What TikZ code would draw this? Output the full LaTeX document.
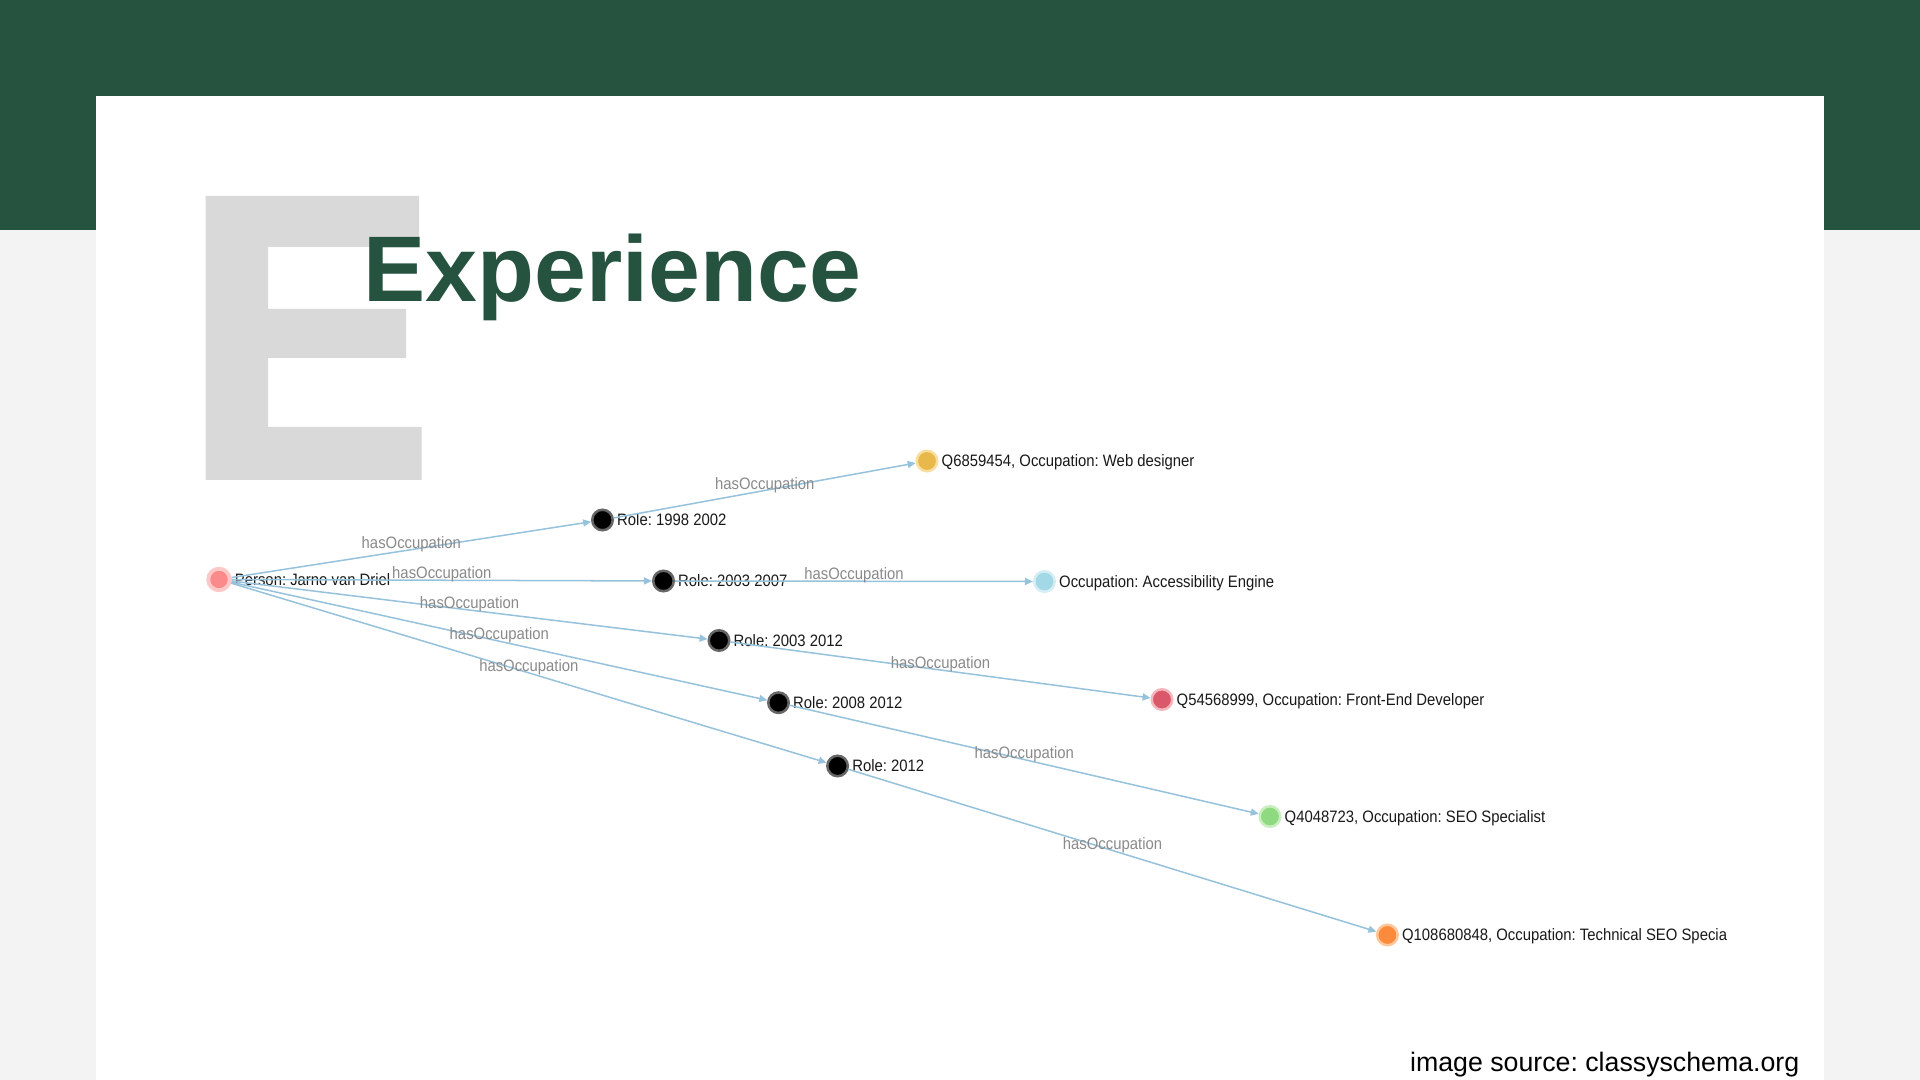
\documentclass[tikz,border=0pt]{standalone}
\usepackage{fontspec}
\setmainfont{Liberation Sans}
\newfontfamily\graphfont[FakeStretch=0.9]{Liberation Sans}
\usetikzlibrary{positioning,arrows.meta}
\frenchspacing

\definecolor{slidegreen}{HTML}{265340}
\definecolor{pagegray}{HTML}{F3F3F3}
\definecolor{bigegray}{HTML}{D9D9D9}
\definecolor{edgeblue}{HTML}{97C2DC}
\definecolor{edgetext}{HTML}{8A8A8A}
\definecolor{personfill}{HTML}{FB8A8A}
\definecolor{personhalo}{HTML}{FDC8C8}
\definecolor{webfill}{HTML}{E8B84A}
\definecolor{webhalo}{HTML}{F8DFA0}
\definecolor{accfill}{HTML}{A3D8E6}
\definecolor{acchalo}{HTML}{D5EEF5}
\definecolor{frontfill}{HTML}{D9596A}
\definecolor{fronthalo}{HTML}{F4B5BD}
\definecolor{seofill}{HTML}{8FDA80}
\definecolor{seohalo}{HTML}{C8EEC0}
\definecolor{techfill}{HTML}{FB8A3C}
\definecolor{techhalo}{HTML}{FDC79C}

\newcommand\graphsize{\fontsize{4.7pt}{5.6pt}\selectfont}

\begin{document}
\begin{tikzpicture}[x=0.01cm, y=-0.01cm,
  dot/.style={circle, minimum size=0.205cm, inner sep=0pt, line width=0.71pt},
  role/.style={dot, fill=black, draw=black!60},
  nodetext/.style={font=\graphfont\graphsize, text=black!90, inner sep=0pt,
    text height=3.36pt, text depth=0pt, right=0.25mm of #1},
  link/.style={draw=edgeblue, line width=0.43pt, -{Triangle[length=0.08cm, width=0.07cm]}},
  linktext/.style={font=\graphfont\graphsize, text=edgetext, inner sep=0pt, yshift=1.6pt}]
\useasboundingbox (0,0) rectangle (1920,1080);

% Slide background
\fill[pagegray] (0,0) rectangle (1920,1080);
\fill[slidegreen] (0,0) rectangle (1920,230);
\fill[white] (96,96) rectangle (1824,1080);

% Big letter E behind the title
\fill[bigegray] (205.6,196) -- (419,196) -- (419,247) -- (268,247) -- (268,309)
  -- (406,309) -- (406,358) -- (268,358) -- (268,427) -- (421.7,427)
  -- (421.7,480) -- (205.6,480) -- cycle;
\node[anchor=base west, inner sep=0pt, text=slidegreen,
  font=\fontsize{26.5pt}{30pt}\selectfont\bfseries] (title) at (363,302) {Experience};

% Person
\node[dot, minimum size=0.215cm, fill=personfill, draw=personhalo, line width=1.1pt] (person) at (219,579.5) {};
\node[nodetext=person] (persontext) {Person: Jarno van Driel};

% Roles
\node[role] (role1) at (602.5,520) {};
\node[role] (role2) at (663.5,581) {};
\node[role] (role3) at (719,640.5) {};
\node[role] (role4) at (778.5,702.7) {};
\node[role] (role5) at (837.6,766) {};
\node[nodetext=role1] (role1text) {Role: 1998 2002};
\node[nodetext=role2] (role2text) {Role: 2003 2007};
\node[nodetext=role3] (role3text) {Role: 2003 2012};
\node[nodetext=role4] (role4text) {Role: 2008 2012};
\node[nodetext=role5] (role5text) {Role: 2012};

% Occupations
\node[dot, fill=webfill, draw=webhalo] (web) at (927,461) {};
\node[dot, fill=accfill, draw=acchalo] (access) at (1044.5,581.5) {};
\node[dot, fill=frontfill, draw=fronthalo] (front) at (1162,699.5) {};
\node[dot, fill=seofill, draw=seohalo] (seo) at (1270,816.5) {};
\node[dot, fill=techfill, draw=techhalo] (tech) at (1387.4,935) {};
\node[nodetext=web] (webtext) {Q6859454, Occupation: Web designer};
\node[nodetext=access] (accesstext) {Occupation: Accessibility Engine};
\node[nodetext=front] (fronttext) {Q54568999, Occupation: Front-End Developer};
\node[nodetext=seo] (seotext) {Q4048723, Occupation: SEO Specialist};
\node[nodetext=tech] (techtext) {Q108680848, Occupation: Technical SEO Specia};

% Edges
\foreach \src/\dst in {person/role1, person/role2, person/role3, person/role4, person/role5,
    role1/web, role2/access, role3/front, role4/seo, role5/tech}
  \draw[link] (\src) -- node[midway, linktext] {hasOccupation} (\dst);

% Credit
\node[anchor=base east, inner sep=0pt, font=\fontsize{7.6pt}{9pt}\selectfont] (credit)
  at (1800,1072) {image source: classyschema.org};
\end{tikzpicture}
\end{document}
